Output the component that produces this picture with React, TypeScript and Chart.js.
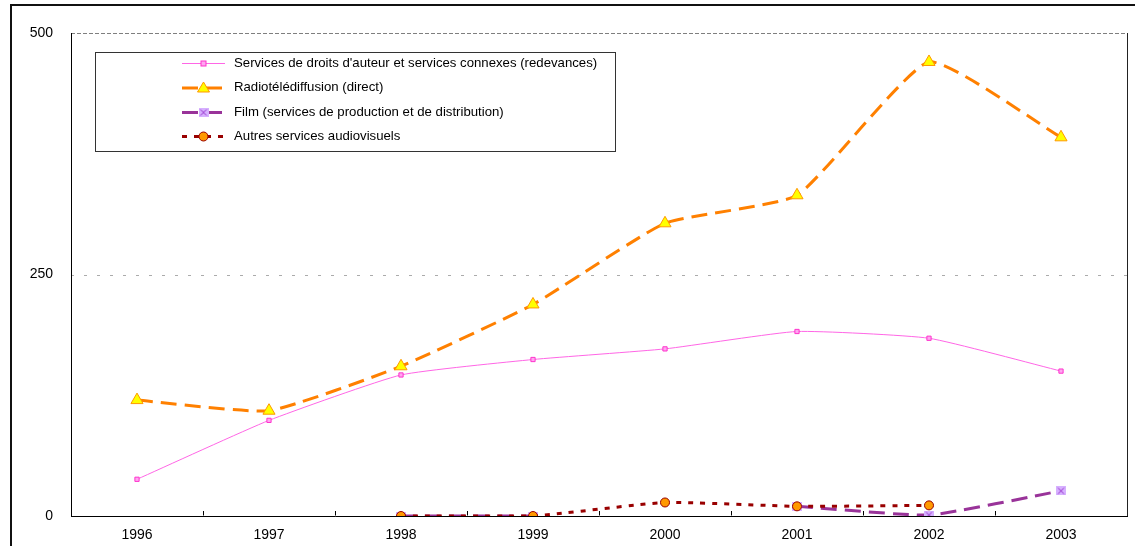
import React, { useEffect, useRef } from "react";
import { Chart, registerables } from "chart.js";

Chart.register(...registerables);

const years = ["1996", "1997", "1998", "1999", "2000", "2001", "2002", "2003"];
const droitsAuteur = [38, 99, 146, 162, 173, 191, 184, 150];
const radiotele = [120, 109, 155, 219, 303, 332, 470, 392];
const film: (number | null)[] = [null, null, 0, 0, null, 10, 1, 26];
const autres: (number | null)[] = [null, null, 0, 0, 14, 10, 11, null];
const yTicks = [0, 250, 500];
const seriesLabels = [
  "Services de droits d'auteur et services connexes (redevances)",
  "Radiotélédiffusion (direct)",
  "Film (services de production et de distribution)",
  "Autres services audiovisuels",
];

const FONT = '"Liberation Sans", Arial, sans-serif';

function makeFilmMarker(): HTMLCanvasElement {
  const c = document.createElement("canvas");
  c.width = 10;
  c.height = 9;
  const g = c.getContext("2d")!;
  g.fillStyle = "#D6B0FF";
  g.fillRect(0, 0, 10, 9);
  g.strokeStyle = "#9933CC";
  g.lineWidth = 1;
  g.beginPath();
  g.moveTo(2, 1.5);
  g.lineTo(8, 7.5);
  g.moveTo(8, 1.5);
  g.lineTo(2, 7.5);
  g.stroke();
  return c;
}

export default function App() {
  const ref = useRef<HTMLCanvasElement | null>(null);

  useEffect(() => {
    document.body.style.margin = "0";
    const canvas = ref.current;
    if (!canvas) return;
    const filmMarker = makeFilmMarker();

    const styles = [
      { color: "#FF66E6", width: 1, dash: [] as number[], marker: "rect" },
      { color: "#FF8000", width: 3, dash: [16, 8], marker: "tri" },
      { color: "#993399", width: 3, dash: [16, 8], marker: "film" },
      { color: "#990000", width: 3, dash: [5, 7], marker: "circle" },
    ];

    const drawMarker = (ctx: CanvasRenderingContext2D, kind: string, x: number, y: number) => {
      ctx.save();
      ctx.setLineDash([]);
      ctx.lineWidth = 1;
      if (kind === "rect") {
        ctx.fillStyle = "#FFA6F0";
        ctx.strokeStyle = "#FF33CC";
        ctx.fillRect(x - 2.5, y - 2.5, 5, 5);
        ctx.strokeRect(x - 2.5, y - 2.5, 5, 5);
      } else if (kind === "tri") {
        ctx.fillStyle = "#FFFF00";
        ctx.strokeStyle = "#FF9900";
        ctx.beginPath();
        ctx.moveTo(x, y - 6);
        ctx.lineTo(x + 6, y + 4);
        ctx.lineTo(x - 6, y + 4);
        ctx.closePath();
        ctx.fill();
        ctx.stroke();
      } else if (kind === "film") {
        ctx.drawImage(filmMarker, x - 5, y - 4.5);
      } else {
        ctx.fillStyle = "#FF9900";
        ctx.strokeStyle = "#990000";
        ctx.beginPath();
        ctx.arc(x, y, 4.5, 0, Math.PI * 2);
        ctx.fill();
        ctx.stroke();
      }
      ctx.restore();
    };

    const framePlugin = {
      id: "frame",
      beforeDraw(chart: any) {
        const ctx = chart.ctx as CanvasRenderingContext2D;
        const { left, right } = chart.chartArea;
        const ys = chart.scales.y;
        ctx.save();
        ctx.fillStyle = "#fff";
        ctx.fillRect(0, 0, chart.width, chart.height);
        ctx.strokeStyle = "#111";
        ctx.lineWidth = 2;
        ctx.beginPath();
        ctx.moveTo(11, chart.height);
        ctx.lineTo(11, 5);
        ctx.lineTo(chart.width, 5);
        ctx.stroke();
        ctx.lineWidth = 1;
        yTicks.forEach((v) => {
          if (v === 0) return;
          const py = Math.round(ys.getPixelForValue(v)) + 0.5;
          const top = v === yTicks[yTicks.length - 1];
          ctx.strokeStyle = top ? "#7F7F7F" : "#ABABAB";
          ctx.setLineDash(top ? [4, 2] : [3, 10]);
          ctx.beginPath();
          ctx.moveTo(left, py);
          ctx.lineTo(right, py);
          ctx.stroke();
        });
        ctx.restore();
      },
      afterDraw(chart: any) {
        const ctx = chart.ctx as CanvasRenderingContext2D;
        const { left, right, top, bottom } = chart.chartArea;
        ctx.save();
        ctx.strokeStyle = "#222";
        ctx.lineWidth = 1;
        ctx.beginPath();
        ctx.moveTo(Math.round(right) + 0.5, top);
        ctx.lineTo(Math.round(right) + 0.5, bottom);
        ctx.stroke();
        const n = years.length;
        const step = (right - left) / n;
        ctx.strokeStyle = "#000";
        for (let i = 1; i < n; i++) {
          const px = Math.round(left + i * step) + 0.5;
          ctx.beginPath();
          ctx.moveTo(px, bottom - 0.5);
          ctx.lineTo(px, bottom - 5);
          ctx.stroke();
        }
        const lx = 95.5, ly = 52.5, lw = 520, lh = 99;
        ctx.fillStyle = "#fff";
        ctx.fillRect(lx, ly, lw, lh);
        ctx.strokeStyle = "#333";
        ctx.strokeRect(lx, ly, lw, lh);
        const rows = [63, 87.5, 112, 136];
        ctx.font = `13.2px ${FONT}`;
        ctx.textBaseline = "middle";
        ctx.textAlign = "left";
        chart.data.datasets.forEach((ds: any, i: number) => {
          const st = styles[i];
          const y = rows[i] + 0.5;
          ctx.save();
          ctx.strokeStyle = st.color;
          ctx.lineWidth = st.width;
          ctx.setLineDash(st.dash);
          ctx.beginPath();
          ctx.moveTo(182, y);
          ctx.lineTo(225, y);
          ctx.stroke();
          ctx.restore();
          drawMarker(ctx, st.marker, 203.5, y);
          ctx.fillStyle = "#000";
          ctx.fillText(ds.label, 234, rows[i]);
        });
        ctx.restore();
      },
    };

    const pt = (i: number) => {
      const st = styles[i];
      if (st.marker === "rect")
        return { pointStyle: "rect", pointRadius: 3, pointBackgroundColor: "#FFA6F0", pointBorderColor: "#FF33CC", pointBorderWidth: 1 };
      if (st.marker === "tri")
        return { pointStyle: "triangle", pointRadius: 7, pointBackgroundColor: "#FFFF00", pointBorderColor: "#FF9900", pointBorderWidth: 1 };
      if (st.marker === "film")
        return { pointStyle: filmMarker, pointRadius: 5, pointBorderWidth: 0 };
      return { pointStyle: "circle", pointRadius: 4.5, pointBackgroundColor: "#FF9900", pointBorderColor: "#990000", pointBorderWidth: 1 };
    };

    const seriesData = [droitsAuteur, radiotele, film, autres];
    const orders = [4, 3, 2, 1];

    const chart = new Chart(canvas, {
      type: "line",
      data: {
        labels: years,
        datasets: seriesData.map((d, i) => ({
          label: seriesLabels[i],
          data: d,
          borderColor: styles[i].color,
          borderWidth: styles[i].width,
          borderDash: styles[i].dash,
          tension: 0.15,
          spanGaps: false,
          fill: false,
          order: orders[i],
          ...pt(i),
        })) as any,
      },
      options: {
        responsive: false,
        animation: false,
        devicePixelRatio: 1,
        layout: { padding: { left: 0, top: 33, right: 8, bottom: 0 } },
        plugins: { legend: { display: false }, tooltip: { enabled: false }, title: { display: false } },
        scales: {
          x: {
            offset: true,
            grid: { display: false, drawTicks: false },
            border: { display: true, color: "#000", width: 1 },
            ticks: {
              autoSkip: false,
              maxRotation: 0,
              padding: 11,
              color: "#000",
              font: { family: FONT, size: 14 },
            },
            afterFit: (s: any) => {
              s.height = 30;
            },
          },
          y: {
            min: 0,
            max: 500,
            afterBuildTicks: (s: any) => {
              s.ticks = yTicks.map((v) => ({ value: v }));
            },
            grid: { display: false, drawTicks: false },
            border: { display: true, color: "#000", width: 1 },
            ticks: {
              padding: 18,
              color: "#000",
              font: { family: FONT, size: 14 },
            },
            afterFit: (s: any) => {
              s.width = 71;
            },
          },
        },
      },
      plugins: [framePlugin],
    });

    return () => chart.destroy();
  }, []);

  return (
    <div style={{ position: "absolute", left: 0, top: 0, width: 1135, height: 546 }}>
      <canvas ref={ref} width={1135} height={546} style={{ width: 1135, height: 546, display: "block" }} />
    </div>
  );
}
